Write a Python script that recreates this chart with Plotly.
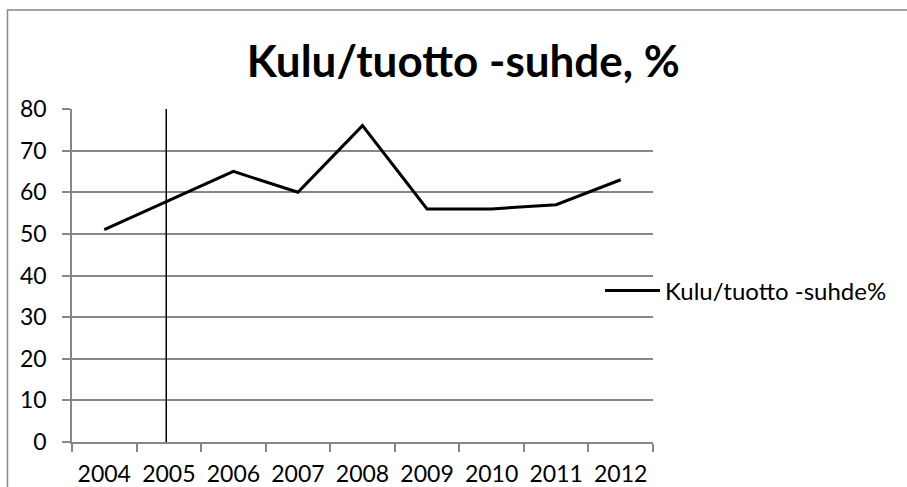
import plotly.graph_objects as go

years = ["2004", "2005", "2006", "2007", "2008", "2009", "2010", "2011", "2012"]
ratio = [51, 58, 65, 60, 76, 56, 56, 57, 63]
y_ticks = [0, 10, 20, 30, 40, 50, 60, 70, 80]
series_name = "Kulu/tuotto -suhde%"
title_text = "Kulu/tuotto -suhde, %"
marker_pos = 0.96  # vertical marker line position (category index)

FONT = "Lato"
GRID = "#878787"

fig = go.Figure()
fig.add_trace(go.Scatter(
    x=years, y=ratio, mode="lines", name=series_name,
    line=dict(color="black", width=3), showlegend=True,
))

fig.update_layout(
    width=907, height=487,
    margin=dict(l=72, r=254, t=109, b=45, autoexpand=False),
    paper_bgcolor="white", plot_bgcolor="white",
    font=dict(family=FONT, size=23, color="black"),
    title=dict(text="<b>" + title_text + "</b>", font=dict(family=FONT, size=44, color="black"),
               x=0.6736, xref="paper", xanchor="center",
               y=1 - 62 / 487, yref="container", yanchor="middle"),
    showlegend=True,
    legend=dict(xref="container", yref="container", x=600 / 907, xanchor="left",
                y=1 - 291 / 487, yanchor="middle",
                font=dict(family=FONT, size=24, color="black"),
                bgcolor="rgba(0,0,0,0)", itemwidth=55),
)

fig.update_xaxes(
    type="category", range=[-0.5, len(years) - 0.5], tickson="boundaries",
    showgrid=False, showline=True, linecolor=GRID, linewidth=1.5,
    ticks="outside", ticklen=8, tickcolor=GRID, tickwidth=1.5, tickangle=0,
    zeroline=False, ticklabelstandoff=11, automargin=False,
)
fig.update_yaxes(
    range=[0, 80], tickmode="array", tickvals=y_ticks,
    showgrid=True, gridcolor=GRID, gridwidth=1.5,
    showline=True, linecolor=GRID, linewidth=1.5,
    ticks="outside", ticklen=8, tickcolor=GRID, tickwidth=1.5,
    zeroline=False, ticklabelstandoff=11, automargin=False,
)

# vertical marker line
fig.add_shape(type="line", xref="x", yref="y", x0=marker_pos, x1=marker_pos, y0=0, y1=80,
              line=dict(color="black", width=1.5))
# chart border
fig.add_shape(type="rect", xref="paper", yref="paper", x0=-0.111, x1=1.7, y0=-0.3, y1=1.297,
              line=dict(color="#888888", width=1.5), fillcolor="rgba(0,0,0,0)", layer="below")

fig.write_html("out.html")
